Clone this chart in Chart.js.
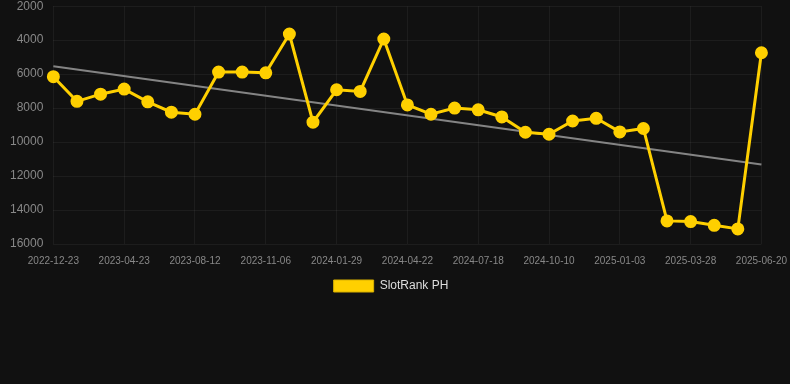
<!DOCTYPE html>
<html><head><meta charset="utf-8">
<script src="https://cdn.jsdelivr.net/npm/chart.js@4"></script>
<style>
html,body{margin:0;padding:0;background:#111111;overflow:hidden;}
#wrap{width:808px;height:313px;position:absolute;left:-10px;top:-11px;}
</style></head>
<body>
<div id="wrap"><canvas id="c"></canvas></div>
<script>
const categories = ['2022-12-23','','','2023-04-23','','','2023-08-12','','','2023-11-06','','','2024-01-29','','','2024-04-22','','','2024-07-18','','','2024-10-10','','','2025-01-03','','','2025-03-28','','','2025-06-20'];
const rankValues = [6150,7600,7180,6880,7630,8240,8360,5880,5880,5920,3640,8830,6920,7020,3930,7810,8360,8000,8100,8520,9420,9540,8760,8600,9400,9200,14640,14680,14900,15110,4740];
const trendValues = [5530,null,null,null,null,null,null,null,null,null,null,null,null,null,null,null,null,null,null,null,null,null,null,null,null,null,null,null,null,null,11320];
const yTicks = [2000,4000,6000,8000,10000,12000,14000,16000];

const shiftLegend = {
  id: 'shiftLegend',
  afterLayout(chart) {
    if (chart.legend) { chart.legend.left -= 8; chart.legend.right -= 8; }
  }
};

new Chart(document.getElementById('c'), {
  type: 'line',
  data: {
    labels: categories,
    datasets: [
      {
        label: 'SlotRank PH',
        data: rankValues,
        borderColor: '#FFD000',
        backgroundColor: '#FFD000',
        borderWidth: 3,
        pointRadius: 5,
        pointHoverRadius: 5,
        pointBackgroundColor: '#FFD000',
        pointBorderColor: '#FFD000',
        tension: 0,
        order: 1
      },
      {
        label: 'trend',
        data: trendValues,
        borderColor: 'rgba(145,145,145,0.9)',
        borderWidth: 2,
        pointRadius: 0,
        spanGaps: true,
        tension: 0,
        order: 2
      }
    ]
  },
  plugins: [shiftLegend],
  options: {
    responsive: true,
    maintainAspectRatio: false,
    animation: false,
    layout: { padding: { left: 10, right: 0, top: 0, bottom: 0 } },
    plugins: {
      legend: {
        position: 'bottom',
        labels: {
          color: '#dddddd',
          padding: 2,
          font: { family: 'Liberation Sans, Arial, sans-serif', size: 12 },
          boxWidth: 40,
          boxHeight: 12,
          filter: (item) => item.datasetIndex === 0,
          generateLabels: (chart) => {
            const items = Chart.defaults.plugins.legend.labels.generateLabels(chart);
            items.forEach(it => { it.lineWidth = 1; it.strokeStyle = '#d9b000'; });
            return items;
          }
        }
      },
      tooltip: { enabled: false }
    },
    scales: {
      x: {
        grid: {
          color: (ctx) => (ctx.index % 3 === 0 ? 'rgba(255,255,255,0.05)' : 'transparent'),
          drawTicks: false
        },
        border: { display: false },
        ticks: {
          autoSkip: false,
          maxRotation: 0,
          color: '#888888',
          padding: 11,
          font: { family: 'Liberation Sans, Arial, sans-serif', size: 10 }
        }
      },
      y: {
        reverse: true,
        min: 2000,
        max: 16000,
        afterBuildTicks: (axis) => { axis.ticks = yTicks.map(v => ({ value: v })); },
        grid: { color: 'rgba(255,255,255,0.05)', drawTicks: false },
        border: { display: false },
        ticks: {
          color: '#888888',
          padding: 10,
          callback: (v) => String(v),
          font: { family: 'Liberation Sans, Arial, sans-serif', size: 12 }
        }
      }
    }
  }
});
</script>
</body></html>
